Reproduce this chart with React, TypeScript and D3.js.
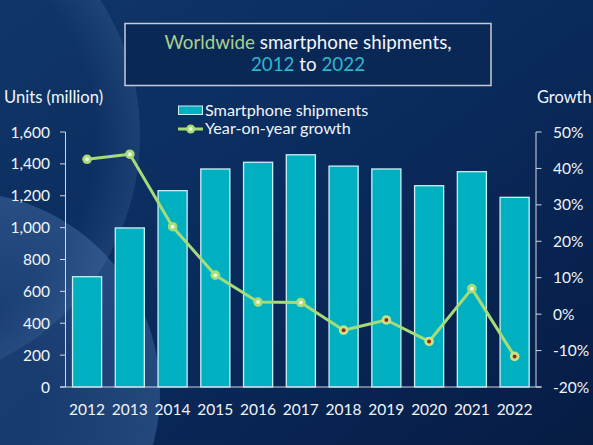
import React from 'react';
import * as d3 from 'd3';

const years = ['2012', '2013', '2014', '2015', '2016', '2017', '2018', '2019', '2020', '2021', '2022'];
const shipments = [692, 998, 1232, 1368, 1410, 1457, 1386, 1368, 1263, 1351, 1190];
const growth = [42.5, 43.9, 24.0, 10.7, 3.3, 3.2, -4.4, -1.6, -7.5, 7.0, -11.6];
const leftTicks = [0, 200, 400, 600, 800, 1000, 1200, 1400, 1600];
const rightTicks = [-20, -10, 0, 10, 20, 30, 40, 50];

const W = 593;
const H = 445;
const FONT = "Lato, 'Open Sans', sans-serif";

export default function App() {
  const x = d3.scaleBand<string>().domain(years).range([65.7, 536]).paddingInner(0.32).paddingOuter(0.16);
  const yL = d3.scaleLinear().domain([0, 1600]).range([387, 132]);
  const yR = d3.scaleLinear().domain([-20, 50]).range([387, 132]);
  const fmt = d3.format(',');
  const cx = (i: number) => (x(years[i]) as number) + x.bandwidth() / 2;
  const line = d3
    .line<number>()
    .x((_, i) => cx(i))
    .y((d) => yR(d));

  const axisColor = '#d0d8e4';
  const textColor = '#f2f5fa';
  const lineColor = '#a6dc78';

  return (
    <svg
      width={W}
      height={H}
      style={{ position: 'absolute', left: 0, top: 0, display: 'block' }}
      fontFamily={FONT}
    >
      <defs>
        <linearGradient id="bg" x1="0" y1="0" x2="1" y2="1">
          <stop offset="0" stopColor="#103668" />
          <stop offset="0.5" stopColor="#0a2a5c" />
          <stop offset="1" stopColor="#061c44" />
        </linearGradient>
        <radialGradient id="arc1" cx="0.5" cy="0.5" r="0.5">
          <stop offset="0.82" stopColor="#6f9bd0" stopOpacity="0" />
          <stop offset="1" stopColor="#6f9bd0" stopOpacity="0.16" />
        </radialGradient>
        <radialGradient id="circ2" cx="0.5" cy="0.5" r="0.5">
          <stop offset="0.4" stopColor="#4a78b4" stopOpacity="0.22" />
          <stop offset="1" stopColor="#5a88c4" stopOpacity="0.34" />
        </radialGradient>
      </defs>
      <rect x={0} y={0} width={W} height={H} fill="url(#bg)" />
      <circle cx={-110} cy={135} r={250} fill="url(#arc1)" />
      <circle cx={-40} cy={392} r={200} fill="url(#circ2)" />

      {/* Title box */}
      <rect x={125} y={23.5} width={366} height={62} fill="#0a2856" stroke="#c4ccd8" strokeWidth={1.5} />
      <text x={308} y={48.5} textAnchor="middle" fontSize={18.8} fill={textColor}>
        <tspan fill="#a9d18e">Worldwide</tspan>
        <tspan> smartphone shipments,</tspan>
      </text>
      <text x={308} y={70.7} textAnchor="middle" fontSize={18.8} fill={textColor}>
        <tspan fill="#2fb6cb">2012</tspan>
        <tspan> to </tspan>
        <tspan fill="#2fb6cb">2022</tspan>
      </text>

      {/* Axis titles */}
      <text x={4} y={103} fontSize={16.6} fill={textColor}>Units (million)</text>
      <text x={537} y={103} fontSize={16.4} fill={textColor}>Growth</text>

      {/* Legend */}
      <rect x={178.5} y={106} width={24} height={8.5} fill="#00b0c0" stroke="#c8f0f5" strokeWidth={1} />
      <text x={205} y={115.5} fontSize={16.2} fill={textColor}>Smartphone shipments</text>
      <line x1={178} y1={129} x2={203} y2={129} stroke={lineColor} strokeWidth={3} />
      <circle cx={190.7} cy={129} r={4.5} fill={lineColor} />
      <circle cx={190.7} cy={129} r={2} fill="#eef8d8" />
      <text x={205} y={133.5} fontSize={16.2} fill={textColor}>Year-on-year growth</text>

      {/* Bars */}
      {shipments.map((v, i) => (
        <rect
          key={years[i]}
          x={x(years[i]) as number}
          y={yL(v)}
          width={x.bandwidth()}
          height={yL(0) - yL(v)}
          fill="#00b0c0"
          stroke="#c8f0f5"
          strokeWidth={1.3}
        />
      ))}

      {/* Left axis */}
      <line x1={65.5} y1={yL(1600)} x2={65.5} y2={yL(0)} stroke={axisColor} strokeWidth={1} />
      {leftTicks.map((t) => (
        <g key={'l' + t}>
          <line x1={60} x2={65.5} y1={yL(t)} y2={yL(t)} stroke={axisColor} strokeWidth={1} />
          <text x={50} y={yL(t) + 5.5} textAnchor="end" fontSize={15.5} fill={textColor}>
            {fmt(t)}
          </text>
        </g>
      ))}

      {/* Right axis */}
      <line x1={536} y1={yR(50)} x2={536} y2={yR(-20)} stroke={axisColor} strokeWidth={1} />
      {rightTicks.map((t) => (
        <g key={'r' + t}>
          <line x1={536} x2={541.5} y1={yR(t)} y2={yR(t)} stroke={axisColor} strokeWidth={1} />
          <text x={553} y={yR(t) + 5.5} textAnchor="start" fontSize={15.5} fill={textColor}>
            {t + '%'}
          </text>
        </g>
      ))}

      {/* Bottom axis */}
      <line x1={60} y1={387} x2={541.5} y2={387} stroke={axisColor} strokeWidth={1} />
      {years.map((yr, i) => (
        <text key={'x' + yr} x={cx(i)} y={415} textAnchor="middle" fontSize={15.5} fill={textColor}>
          {yr}
        </text>
      ))}

      {/* Growth line */}
      <path d={line(growth) || ''} fill="none" stroke={lineColor} strokeWidth={3} strokeLinejoin="round" />
      {growth.map((g, i) => (
        <g key={'m' + i}>
          <circle cx={cx(i)} cy={yR(g)} r={4.8} fill={g >= 0 ? lineColor : '#c4e48c'} />
          <circle cx={cx(i)} cy={yR(g)} r={2} fill={g >= 0 ? '#eef8d8' : '#9a2a08'} />
        </g>
      ))}
    </svg>
  );
}
